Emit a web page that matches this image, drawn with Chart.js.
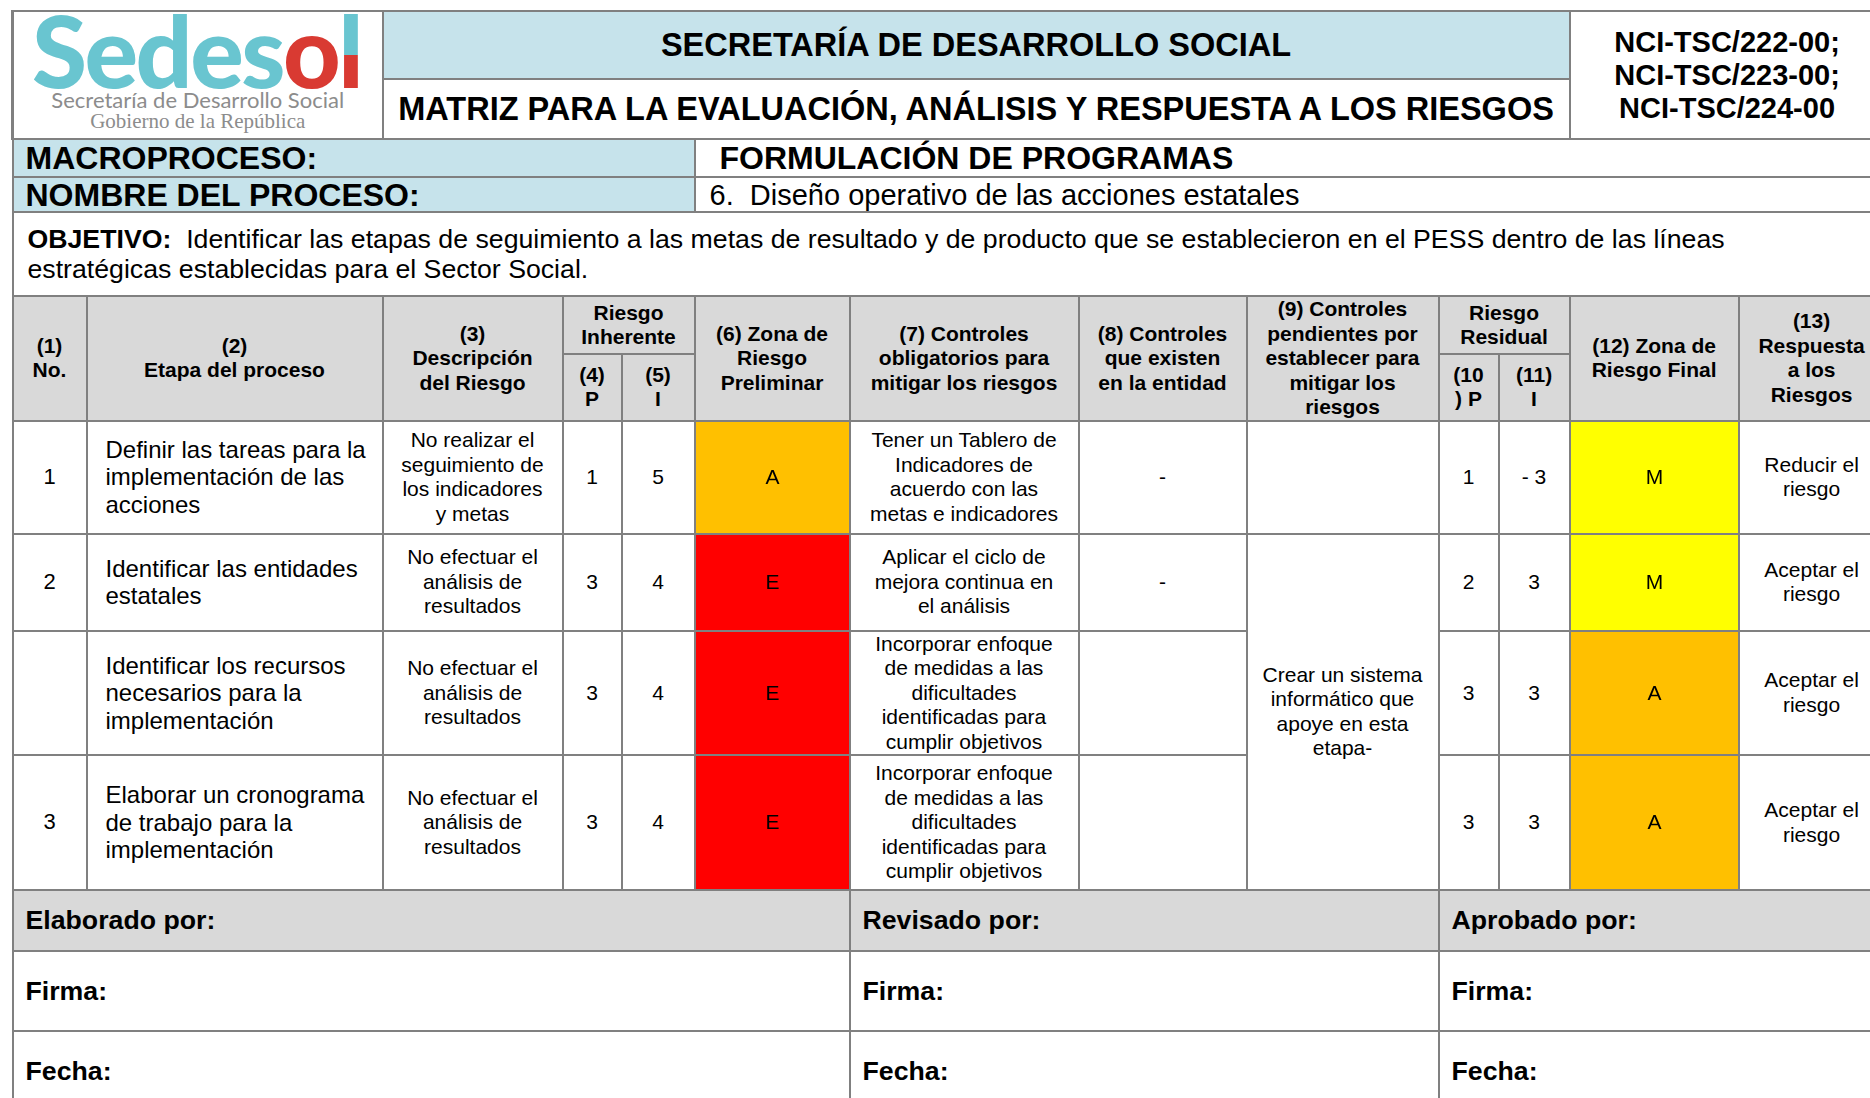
<!DOCTYPE html>
<html lang="es">
<head>
<meta charset="utf-8">
<title>Matriz de riesgos</title>
<script src="https://cdn.jsdelivr.net/npm/chart.js"></script>
<style>
  body { margin: 0; background: #fff; overflow: hidden; font-family: "Liberation Sans", Arial, sans-serif; color: #000; }
  #sheet { position: absolute; left: 11px; top: 10px; border-collapse: collapse; table-layout: fixed; width: 1872px; }
  #sheet td { border: 2px solid #808080; padding: 0; overflow: hidden; vertical-align: middle; }
  .blue { background: #c6e3eb; }
  .grey { background: #d9d9d9; }
  .thick td { border-top-width: 4px; }
  .title { font-weight: bold; font-size: 32.5px; text-align: center; white-space: nowrap; }
  .code { font-weight: bold; font-size: 29px; line-height: 33px; text-align: center; }
  .macro { font-weight: bold; font-size: 32px; line-height: 30px; padding-left: 12px !important; white-space: nowrap; }
  .obj { font-size: 26.7px; line-height: 30px; padding-left: 14px !important; white-space: nowrap; }
  .hd { font-weight: bold; font-size: 21px; line-height: 24.5px; text-align: center; }
  .c { font-size: 21px; line-height: 24.5px; text-align: center; white-space: pre-line; }
  .stage { font-size: 24px; line-height: 27.5px; padding-left: 18px !important; white-space: pre-line; }
  .foot { font-weight: bold; font-size: 26.7px; padding-left: 12px !important; }
  .zone { position: relative; }
  .zone div { position: absolute; left: 0; top: 0; right: 0; bottom: 0; }
  .logo { position: relative; height: 124px; overflow: hidden; }
  .logo .big { position: absolute; left: 18px; top: 0; font-family: Lato, "Liberation Sans", sans-serif; font-weight: 900; font-size: 100px; letter-spacing: -2.5px; color: #69c5d0; line-height: 72px; white-space: nowrap; }
  .logo .red { color: #d93a32; }
  .logo .l { background: linear-gradient(to bottom, #69c5d0 55%, #d93a32 55%); -webkit-background-clip: text; background-clip: text; color: transparent; }
  .logo .s1 { position: absolute; left: 0; right: 0; top: 77px; text-align: center; font-family: Lato, "Liberation Sans", sans-serif; font-size: 22px; line-height: 20px; color: #8c8c8c; white-space: nowrap; }
  .logo .s2 { position: absolute; left: 0; right: 0; top: 98px; text-align: center; font-family: "Liberation Serif", serif; font-size: 21px; line-height: 20px; color: #8c8c8c; white-space: nowrap; }
</style>
</head>
<body>
<table id="sheet">
  <colgroup>
    <col style="width:74px"><col style="width:296px"><col style="width:180px"><col style="width:59px"><col style="width:73px">
    <col style="width:155px"><col style="width:229px"><col style="width:168px"><col style="width:192px"><col style="width:60px">
    <col style="width:71px"><col style="width:169px"><col style="width:146px">
  </colgroup>
  <tr class="thick" style="height:68px">
    <td colspan="2" rowspan="2" style="border-left-width:3px"><div class="logo">
      <div class="big">Sedes<span class="red">o</span><span class="l">l</span></div>
      <div class="s1">Secretaría de Desarrollo Social</div>
      <div class="s2">Gobierno de la República</div>
    </div></td>
    <td colspan="9" class="title blue">SECRETARÍA DE DESARROLLO SOCIAL</td>
    <td colspan="2" rowspan="2" class="code">NCI-TSC/222-00;<br>NCI-TSC/223-00;<br>NCI-TSC/224-00</td>
  </tr>
  <tr style="height:60px">
    <td colspan="9" class="title">MATRIZ PARA LA EVALUACIÓN, ANÁLISIS Y RESPUESTA A LOS RIESGOS</td>
  </tr>
  <tr class="thick" style="height:38px">
    <td colspan="5" class="macro blue">MACROPROCESO:</td>
    <td colspan="8" class="macro" style="padding-left:24px !important">FORMULACIÓN DE PROGRAMAS</td>
  </tr>
  <tr style="height:35px">
    <td colspan="5" class="macro blue">NOMBRE DEL PROCESO:</td>
    <td colspan="8" class="obj" style="font-size:29px">6.&nbsp; Diseño operativo de las acciones estatales</td>
  </tr>
  <tr style="height:84px">
    <td colspan="13" class="obj"><b>OBJETIVO:</b>&nbsp; Identificar las etapas de seguimiento a las metas de resultado y de producto que se establecieron en el PESS dentro de las líneas<br>estratégicas establecidas para el Sector Social.</td>
  </tr>
  <tr class="thick grey" style="height:58px">
    <td rowspan="2" class="hd">(1)<br>No.</td>
    <td rowspan="2" class="hd">(2)<br>Etapa del proceso</td>
    <td rowspan="2" class="hd">(3)<br>Descripción<br>del Riesgo</td>
    <td colspan="2" class="hd">Riesgo<br>Inherente</td>
    <td rowspan="2" class="hd">(6) Zona de<br>Riesgo<br>Preliminar</td>
    <td rowspan="2" class="hd">(7) Controles<br>obligatorios para<br>mitigar los riesgos</td>
    <td rowspan="2" class="hd">(8) Controles<br>que existen<br>en la entidad</td>
    <td rowspan="2" class="hd">(9) Controles<br>pendientes por<br>establecer para<br>mitigar los<br>riesgos</td>
    <td colspan="2" class="hd">Riesgo<br>Residual</td>
    <td rowspan="2" class="hd">(12) Zona de<br>Riesgo Final</td>
    <td rowspan="2" class="hd">(13)<br>Respuesta<br>a los<br>Riesgos</td>
  </tr>
  <tr class="grey" style="height:66px">
    <td class="hd">(4)<br>P</td>
    <td class="hd">(5)<br>I</td>
    <td class="hd">(10<br>) P</td>
    <td class="hd">(11)<br>I</td>
  </tr>
  <tbody id="body"></tbody>
  <tr class="thick grey" style="height:61px">
    <td colspan="6" class="foot">Elaborado por:</td>
    <td colspan="3" class="foot">Revisado por:</td>
    <td colspan="4" class="foot">Aprobado por:</td>
  </tr>
  <tr class="thick" style="height:80px">
    <td colspan="6" class="foot">Firma:</td>
    <td colspan="3" class="foot">Firma:</td>
    <td colspan="4" class="foot">Firma:</td>
  </tr>
  <tr class="thick" style="height:80px">
    <td colspan="6" class="foot">Fecha:</td>
    <td colspan="3" class="foot">Fecha:</td>
    <td colspan="4" class="foot">Fecha:</td>
  </tr>
</table>

<script>
// datos de la matriz
const stageNo = ['1', '2', '', '3'];
const stages = [
    'Definir las tareas para la\nimplementación de las\nacciones',
    'Identificar las entidades\nestatales',
    'Identificar los recursos\nnecesarios para la\nimplementación',
    'Elaborar un cronograma\nde trabajo para la\nimplementación'
];
const riskDesc = [
    'No realizar el\nseguimiento de\nlos indicadores\ny metas',
    'No efectuar el\nanálisis de\nresultados',
    'No efectuar el\nanálisis de\nresultados',
    'No efectuar el\nanálisis de\nresultados'
];
const probInh = [1, 3, 3, 3];
const impInh = [5, 4, 4, 4];
const zoneInh = ['A', 'E', 'E', 'E'];
const mandatoryControls = [
    'Tener un Tablero de\nIndicadores de\nacuerdo con las\nmetas e indicadores',
    'Aplicar el ciclo de\nmejora continua en\nel análisis',
    'Incorporar enfoque\nde medidas a las\ndificultades\nidentificadas para\ncumplir objetivos',
    'Incorporar enfoque\nde medidas a las\ndificultades\nidentificadas para\ncumplir objetivos'
];
const existingControls = ['-', '-', '', ''];
const pendingControls = ['', 'Crear un sistema\ninformático que\napoye en esta\netapa-'];
const probRes = [1, 2, 3, 3];
const impRes = ['- 3', 3, 3, 3];
const zoneRes = ['M', 'M', 'A', 'A'];
const responses = ['Reducir el\nriesgo', 'Aceptar el\nriesgo', 'Aceptar el\nriesgo', 'Aceptar el\nriesgo'];

const zoneColors = { A: '#ffc000', E: '#ff0000', M: '#ffff00' };
const rowHeights = [113, 97, 124, 135];

// letra de la zona en el centro de la barra
const zoneLabel = {
    id: 'zoneLabel',
    afterDatasetsDraw(chart) {
        const bar = chart.getDatasetMeta(0).data[0];
        const ctx = chart.ctx;
        ctx.save();
        ctx.fillStyle = '#000';
        ctx.font = '21px "Liberation Sans", Arial, sans-serif';
        ctx.textAlign = 'center';
        ctx.textBaseline = 'middle';
        ctx.fillText(chart.data.labels[0], bar.x, (bar.y + bar.base) / 2 + 1);
        ctx.restore();
    }
};

function cell(tr, text, cls, span) {
    const td = document.createElement('td');
    td.className = cls;
    td.textContent = text;
    if (span) td.rowSpan = span;
    tr.appendChild(td);
    return td;
}

const zoneCells = [];
function zoneCell(tr, zone) {
    const td = document.createElement('td');
    td.className = 'zone';
    const box = document.createElement('div');
    const canvas = document.createElement('canvas');
    box.appendChild(canvas);
    td.appendChild(box);
    tr.appendChild(td);
    zoneCells.push({ canvas, zone });
}

const tbody = document.getElementById('body');
stages.forEach((stage, i) => {
    const tr = document.createElement('tr');
    tr.style.height = rowHeights[i] + 'px';
    if (i === 0 || i === 3) tr.className = 'thick';
    cell(tr, stageNo[i], 'c').style.fontSize = '22px';
    cell(tr, stage, 'stage');
    cell(tr, riskDesc[i], 'c');
    cell(tr, probInh[i], 'c');
    cell(tr, impInh[i], 'c');
    zoneCell(tr, zoneInh[i]);
    cell(tr, mandatoryControls[i], 'c');
    cell(tr, existingControls[i], 'c');
    if (i === 0) cell(tr, pendingControls[0], 'c');
    if (i === 1) cell(tr, pendingControls[1], 'c', 3);
    cell(tr, probRes[i], 'c');
    cell(tr, impRes[i], 'c');
    zoneCell(tr, zoneRes[i]);
    cell(tr, responses[i], 'c');
    tbody.appendChild(tr);
});

zoneCells.forEach(({ canvas, zone }) => {
    new Chart(canvas, {
        type: 'bar',
        data: {
            labels: [zone],
            datasets: [{
                data: [1],
                backgroundColor: zoneColors[zone],
                borderWidth: 0,
                barPercentage: 1,
                categoryPercentage: 1
            }]
        },
        options: {
            responsive: true,
            maintainAspectRatio: false,
            animation: false,
            layout: { padding: 0 },
            plugins: { legend: { display: false }, tooltip: { enabled: false } },
            scales: {
                x: { display: false },
                y: { display: false, min: 0, max: 1 }
            }
        },
        plugins: [zoneLabel]
    });
});
</script>
</body>
</html>
